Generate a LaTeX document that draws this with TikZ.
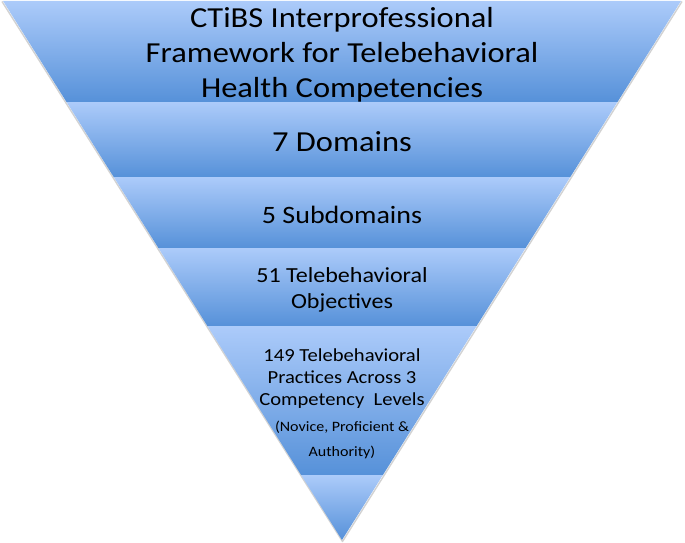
\documentclass[tikz,border=0pt]{standalone}
\usepackage{fontspec}
\setmainfont{Carlito}[FakeStretch=1.12]
\definecolor{bandtop}{RGB}{172,203,250}
\definecolor{bandbot}{RGB}{86,145,217}
\definecolor{shadowc}{RGB}{210,210,210}
\tikzset{
  band/.style={top color=bandtop, bottom color=bandbot},
  lbl/.style={align=center, inner sep=0pt, text=black},
}
\begin{document}
\begin{tikzpicture}[x=1pt,y=-1pt]
\useasboundingbox (0,0) rectangle (685,543);
% faint shadow along the outer edges
\draw[shadowc, line width=1.4pt, line join=round] (2,1.5) -- (342.5,541.5) -- (682,1.5);
% bands
\shade[band] (3,1) -- (681,1) -- (617.5,102) -- (66.5,102) -- cycle;
\shade[band] (66.5,102) -- (617.5,102) -- (570.3,177) -- (113.7,177) -- cycle;
\shade[band] (113.7,177) -- (570.3,177) -- (525.6,248) -- (158.4,248) -- cycle;
\shade[band] (158.4,248) -- (525.6,248) -- (476.6,326) -- (207.4,326) -- cycle;
\shade[band] (207.4,326) -- (476.6,326) -- (382.9,475) -- (301.1,475) -- cycle;
\shade[band] (301.1,475) -- (382.9,475) -- (342,540) -- cycle;
% labels
\node[lbl, font=\fontsize{29}{35}\selectfont] (t1) at (342,55) {CTiBS Interprofessional\\Framework for Telebehavioral\\Health Competencies};
\node[lbl, font=\fontsize{29}{35}\selectfont] (t2) at (342,141.5) {7 Domains};
\node[lbl, font=\fontsize{25}{30}\selectfont] (t3) at (342,214.5) {5 Subdomains};
\node[lbl, font=\fontsize{21.5}{26}\selectfont] (t4) at (342,289.5) {51 Telebehavioral\\Objectives};
\node[lbl, font=\fontsize{18.4}{22}\selectfont] (t5) at (342,379) {149 Telebehavioral\\Practices Across 3\\Competency\ \ Levels};
\node[lbl, font=\fontsize{14.3}{25}\selectfont] (t6) at (342,440) {(Novice, Proficient \&\\Authority)};
\end{tikzpicture}
\end{document}
